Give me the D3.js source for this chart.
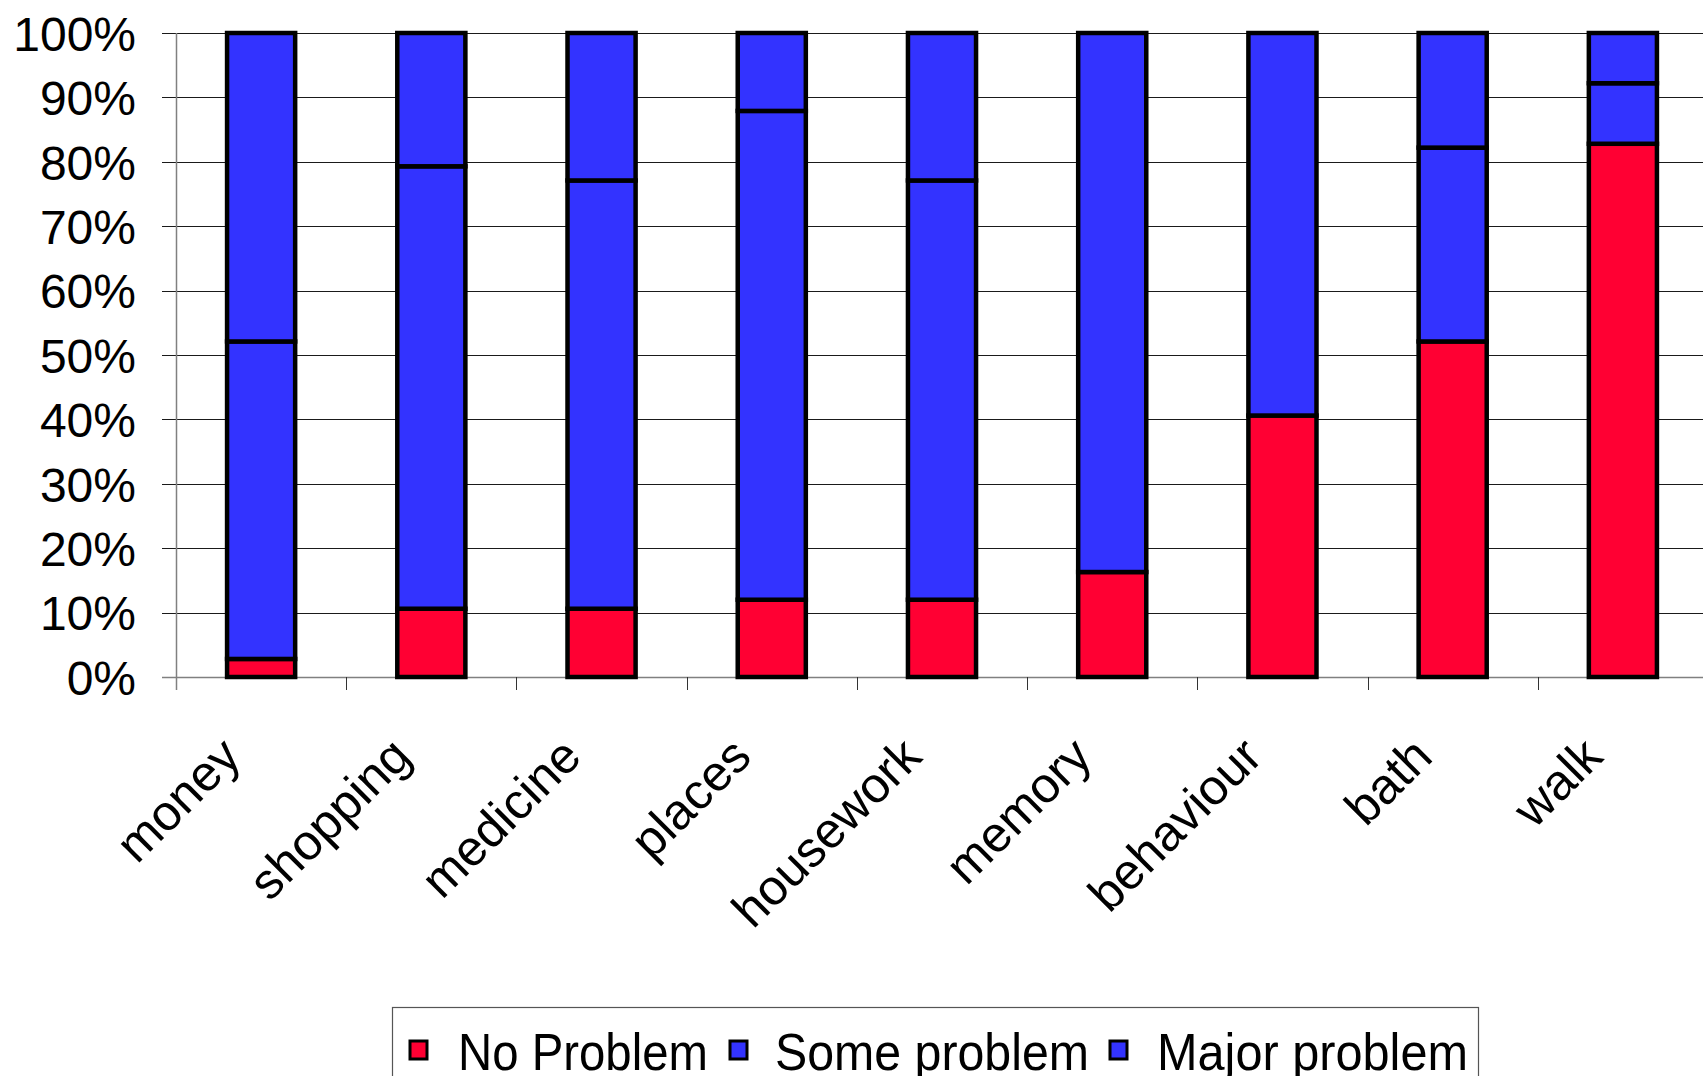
<!DOCTYPE html>
<html>
<head>
<meta charset="utf-8">
<script src="https://cdn.jsdelivr.net/npm/d3@7"></script>
<style>
  html, body { margin: 0; padding: 0; background: #fff; }
  svg { display: block; }
  text { font-family: "Liberation Sans", Arial, sans-serif; fill: #000; }
</style>
</head>
<body>
<svg id="chart" width="1703" height="1076"></svg>
<script>
// Activity categories along the x axis
const categories = ["money", "shopping", "medicine", "places", "housework", "memory", "behaviour", "bath", "walk"];

// Share of respondents (%) in each problem group, stacked bottom to top
const noProblem    = [2.8, 10.6, 10.6, 12.0, 12.0, 16.3, 40.6, 52.1, 82.8];
const someProblem  = [49.3, 68.7, 66.5, 75.9, 65.1, 83.7, 59.4, 30.1, 9.4];
const majorProblem = [47.9, 20.7, 22.9, 12.1, 22.9, 0.0, 0.0, 17.8, 7.8];

const seriesNames = ["No Problem", "Some problem", "Major problem"];
const seriesColors = ["#FF0033", "#3333FF", "#3333FF"];

const yTickValues = [0, 10, 20, 30, 40, 50, 60, 70, 80, 90, 100];
const yTickLabels = ["0%", "10%", "20%", "30%", "40%", "50%", "60%", "70%", "80%", "90%", "100%"];

const svg = d3.select("#chart");

const plot = { left: 176, right: 1708, top: 33, bottom: 677 };

const x = d3.scaleBand()
  .domain(categories)
  .range([plot.left, plot.right])
  .paddingInner(0.6)
  .paddingOuter(0.3);

const slot = d3.scaleBand()
  .domain(categories)
  .range([plot.left, plot.right])
  .padding(0);

const y = d3.scaleLinear().domain([0, 100]).range([plot.bottom, plot.top]);

// Horizontal gridlines (extend left past the axis as tick marks)
svg.append("g")
  .selectAll("line")
  .data(yTickValues)
  .join("line")
  .attr("x1", plot.left - 14)
  .attr("x2", 1703)
  .attr("y1", d => Math.round(y(d)) + 0.5)
  .attr("y2", d => Math.round(y(d)) + 0.5)
  .attr("stroke", d => d === 0 ? "#808080" : "#1a1a1a")
  .attr("stroke-width", d => d === 0 ? 1.5 : 1);

// Y axis labels
const yAxis = d3.axisLeft(y)
  .tickValues(yTickValues)
  .tickFormat((d, i) => yTickLabels[i])
  .tickSize(0)
  .tickPadding(40);

const gy = svg.append("g")
  .attr("transform", `translate(${plot.left},0)`)
  .call(yAxis);
gy.select(".domain").remove();
gy.selectAll("text")
  .style("font-family", "'Liberation Sans', Arial, sans-serif")
  .style("font-size", "48px")
  .attr("dy", "0.36em");

// Vertical axis line
svg.append("line")
  .attr("x1", plot.left + 0.5).attr("x2", plot.left + 0.5)
  .attr("y1", plot.top).attr("y2", plot.bottom + 13)
  .attr("stroke", "#808080").attr("stroke-width", 1.5);

// Category separators below the baseline
svg.append("g")
  .selectAll("line")
  .data(categories.slice(1))
  .join("line")
  .attr("x1", d => Math.round(slot(d)) + 0.5)
  .attr("x2", d => Math.round(slot(d)) + 0.5)
  .attr("y1", plot.bottom)
  .attr("y2", plot.bottom + 13)
  .attr("stroke", "#333")
  .attr("stroke-width", 1);

// Stacked bars
const table = categories.map((c, i) => ({
  category: c,
  "No Problem": noProblem[i],
  "Some problem": someProblem[i],
  "Major problem": majorProblem[i]
}));

const stacked = d3.stack().keys(seriesNames)(table);

svg.append("g")
  .selectAll("g")
  .data(stacked)
  .join("g")
  .attr("fill", (d, i) => seriesColors[i])
  .selectAll("rect")
  .data(d => d.filter(s => s[1] - s[0] > 0))
  .join("rect")
  .attr("x", d => x(d.data.category))
  .attr("width", x.bandwidth())
  .attr("y", d => y(d[1]))
  .attr("height", d => y(d[0]) - y(d[1]))
  .attr("stroke", "#000")
  .attr("stroke-width", 4.5);

// Rotated category labels
svg.append("g")
  .selectAll("text")
  .data(categories)
  .join("text")
  .attr("transform", d => `translate(${x(d) + x.bandwidth() / 2 - 18},759) rotate(-45)`)
  .attr("text-anchor", "end")
  .style("font-size", "50px")
  .text(d => d);

// Legend
const legend = svg.append("g");
legend.append("rect")
  .attr("x", 392.5).attr("y", 1007.5)
  .attr("width", 1086).attr("height", 90)
  .attr("fill", "#fff").attr("stroke", "#555").attr("stroke-width", 1.2);

const legendItems = [
  { sx: 410, tx: 458, w: 250 },
  { sx: 730, tx: 775, w: 314 },
  { sx: 1110, tx: 1157, w: 311 }
];

seriesNames.forEach((name, i) => {
  const it = legendItems[i];
  legend.append("rect")
    .attr("x", it.sx).attr("y", 1041)
    .attr("width", 17).attr("height", 18)
    .attr("fill", seriesColors[i])
    .attr("stroke", "#000").attr("stroke-width", 3);
  legend.append("text")
    .attr("x", it.tx).attr("y", 1070)
    .attr("textLength", it.w)
    .attr("lengthAdjust", "spacingAndGlyphs")
    .style("font-size", "52px")
    .text(name);
});
</script>
</body>
</html>
